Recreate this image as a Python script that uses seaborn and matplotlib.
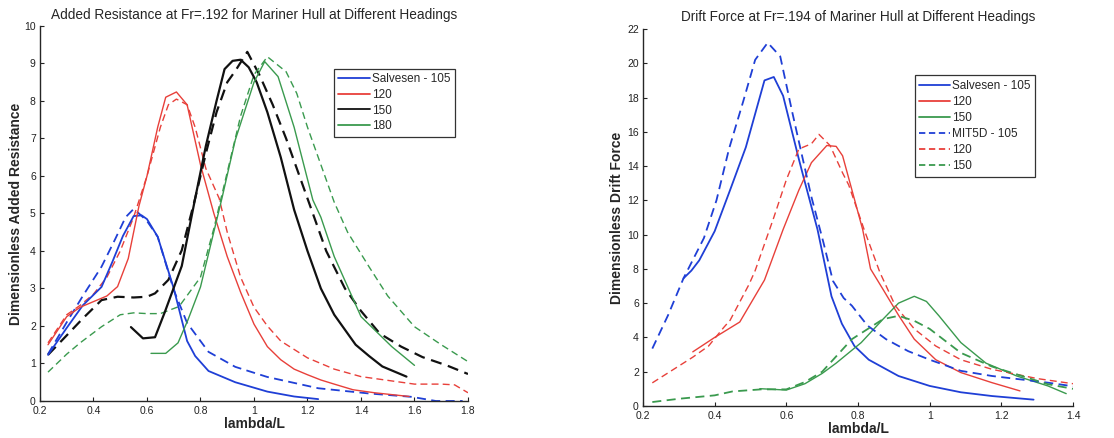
import numpy as np
import pandas as pd
import seaborn as sns
import matplotlib
matplotlib.use("Agg")
import matplotlib.pyplot as plt
from matplotlib.lines import Line2D

# ---------------- Left chart data: Added resistance ----------------
ar_blue_s_x = [0.23, 0.30, 0.36, 0.43, 0.47, 0.51, 0.55, 0.58, 0.60, 0.64, 0.70, 0.75, 0.78, 0.83, 0.93, 1.05, 1.15, 1.24]
ar_blue_s_y = [1.23, 1.95, 2.55, 3.04, 3.7, 4.4, 4.93, 4.95, 4.85, 4.38, 3.0, 1.6, 1.2, 0.8, 0.5, 0.25, 0.12, 0.05]
ar_blue_d_x = [0.23, 0.30, 0.36, 0.43, 0.48, 0.52, 0.55, 0.57, 0.60, 0.64, 0.70, 0.75, 0.83, 0.93, 1.05, 1.24, 1.43, 1.59, 1.68, 1.78]
ar_blue_d_y = [1.25, 2.1, 2.8, 3.58, 4.3, 4.9, 5.12, 5.0, 4.8, 4.38, 2.96, 2.08, 1.31, 0.91, 0.64, 0.34, 0.2, 0.11, 0.0, 0.0]
ar_red_s_x = [0.23, 0.30, 0.35, 0.40, 0.45, 0.49, 0.53, 0.57, 0.60, 0.64, 0.67, 0.71, 0.75, 0.80, 0.85, 0.90, 0.95, 1.00, 1.05, 1.10, 1.15, 1.20, 1.25, 1.30, 1.37, 1.45, 1.58]
ar_red_s_y = [1.5, 2.25, 2.5, 2.65, 2.8, 3.05, 3.8, 5.2, 6.0, 7.3, 8.1, 8.24, 7.9, 6.3, 5.0, 3.85, 2.9, 2.05, 1.45, 1.1, 0.85, 0.7, 0.56, 0.45, 0.3, 0.22, 0.12]
ar_red_d_x = [0.23, 0.30, 0.35, 0.40, 0.45, 0.50, 0.55, 0.60, 0.65, 0.68, 0.71, 0.75, 0.78, 0.82, 0.87, 0.90, 0.95, 1.00, 1.05, 1.10, 1.20, 1.30, 1.40, 1.50, 1.60, 1.70, 1.75, 1.80]
ar_red_d_y = [1.55, 2.3, 2.55, 2.85, 3.3, 4.0, 4.9, 6.0, 7.3, 7.9, 8.05, 7.9, 7.3, 6.2, 5.4, 4.5, 3.3, 2.5, 2.0, 1.6, 1.15, 0.85, 0.65, 0.55, 0.45, 0.45, 0.43, 0.22]
ar_black_s_x = [0.54, 0.585, 0.63, 0.665, 0.73, 0.78, 0.82, 0.86, 0.89, 0.92, 0.95, 0.98, 1.01, 1.05, 1.10, 1.15, 1.20, 1.25, 1.30, 1.38, 1.43, 1.48, 1.57]
ar_black_s_y = [1.97, 1.67, 1.7, 2.34, 3.6, 5.4, 6.8, 8.0, 8.85, 9.07, 9.1, 8.9, 8.5, 7.7, 6.5, 5.1, 4.0, 3.0, 2.3, 1.5, 1.2, 0.92, 0.65]
ar_black_d_x = [0.23, 0.30, 0.36, 0.43, 0.49, 0.55, 0.60, 0.63, 0.68, 0.73, 0.78, 0.82, 0.86, 0.90, 0.93, 0.975, 1.02, 1.07, 1.12, 1.17, 1.22, 1.27, 1.34, 1.40, 1.47, 1.55, 1.63, 1.72, 1.80]
ar_black_d_y = [1.23, 1.75, 2.2, 2.69, 2.78, 2.76, 2.78, 2.87, 3.23, 4.02, 5.4, 6.6, 7.7, 8.5, 8.8, 9.31, 8.7, 7.9, 7.0, 6.0, 5.0, 4.0, 3.0, 2.4, 1.8, 1.45, 1.17, 0.95, 0.72]
ar_green_s_x = [0.615, 0.67, 0.716, 0.753, 0.80, 0.88, 0.93, 1.00, 1.04, 1.09, 1.15, 1.22, 1.25, 1.30, 1.40, 1.515, 1.60]
ar_green_s_y = [1.27, 1.27, 1.55, 2.16, 3.04, 5.4, 6.96, 8.5, 9.05, 8.65, 7.3, 5.36, 4.9, 3.85, 2.25, 1.45, 0.95]
ar_green_d_x = [0.23, 0.30, 0.35, 0.43, 0.50, 0.55, 0.60, 0.65, 0.72, 0.80, 0.85, 0.90, 0.95, 1.00, 1.05, 1.12, 1.16, 1.20, 1.25, 1.30, 1.35, 1.43, 1.50, 1.60, 1.70, 1.80]
ar_green_d_y = [0.77, 1.25, 1.55, 1.98, 2.3, 2.35, 2.33, 2.33, 2.52, 3.3, 4.6, 6.1, 7.6, 8.7, 9.18, 8.78, 8.2, 7.3, 6.3, 5.3, 4.5, 3.58, 2.8, 1.98, 1.5, 1.05]

# ---------------- Right chart data: Drift force ----------------
df_blue_s_x = [0.313, 0.335, 0.357, 0.40, 0.443, 0.487, 0.539, 0.565, 0.591, 0.635, 0.65, 0.687, 0.726, 0.755, 0.79, 0.83, 0.913, 1.00, 1.087, 1.174, 1.29]
df_blue_s_y = [7.45, 7.9, 8.5, 10.2, 12.6, 15.1, 19.0, 19.2, 18.1, 14.4, 13.2, 10.3, 6.4, 4.8, 3.5, 2.7, 1.75, 1.17, 0.8, 0.58, 0.37]
df_blue_d_x = [0.226, 0.27, 0.313, 0.37, 0.405, 0.44, 0.48, 0.513, 0.548, 0.583, 0.617, 0.645, 0.67, 0.704, 0.73, 0.76, 0.783, 0.826, 0.878, 0.94, 1.00, 1.087, 1.174, 1.33, 1.40]
df_blue_d_y = [3.35, 5.3, 7.45, 9.8, 12.0, 15.0, 17.8, 20.2, 21.2, 20.4, 17.1, 14.5, 12.2, 9.5, 7.3, 6.3, 5.85, 4.7, 3.9, 3.2, 2.7, 2.05, 1.75, 1.36, 1.15]
df_red_s_x = [0.339, 0.40, 0.47, 0.539, 0.591, 0.635, 0.67, 0.713, 0.739, 0.757, 0.787, 0.813, 0.835, 0.87, 0.913, 0.957, 1.017, 1.087, 1.174, 1.252]
df_red_s_y = [3.16, 4.0, 4.9, 7.35, 10.3, 12.6, 14.2, 15.2, 15.15, 14.6, 12.3, 10.3, 8.0, 6.8, 5.3, 3.9, 2.7, 1.95, 1.36, 0.88]
df_red_d_x = [0.226, 0.339, 0.383, 0.426, 0.443, 0.496, 0.513, 0.565, 0.60, 0.635, 0.67, 0.691, 0.722, 0.757, 0.774, 0.817, 0.861, 0.904, 0.957, 1.017, 1.087, 1.174, 1.30, 1.40]
df_red_d_y = [1.35, 2.85, 3.5, 4.6, 5.0, 7.1, 7.9, 11.0, 13.2, 15.0, 15.3, 15.85, 15.2, 13.6, 12.9, 10.3, 7.8, 5.85, 4.5, 3.5, 2.7, 2.14, 1.6, 1.3]
df_green_s_x = [0.526, 0.60, 0.652, 0.70, 0.739, 0.809, 0.87, 0.913, 0.957, 0.991, 1.026, 1.087, 1.157, 1.243, 1.33, 1.381]
df_green_s_y = [1.01, 0.93, 1.3, 1.9, 2.5, 3.7, 5.07, 6.0, 6.4, 6.1, 5.26, 3.7, 2.5, 1.75, 1.17, 0.72]
df_green_d_x = [0.226, 0.30, 0.40, 0.45, 0.53, 0.60, 0.652, 0.70, 0.783, 0.87, 0.913, 0.957, 1.00, 1.087, 1.174, 1.33, 1.40]
df_green_d_y = [0.23, 0.42, 0.62, 0.85, 0.97, 0.97, 1.4, 2.0, 3.9, 5.07, 5.26, 4.97, 4.5, 3.1, 2.3, 1.27, 1.0]

left_labels = ["Salvesen - 105", "120", "150", "180"]
right_labels = ["Salvesen - 105", "120", "150", "MIT5D - 105", "120", "150"]

BLUE = "#1f3fd6"
RED = "#e8403a"
BLACK = "#111111"
GREEN = "#3a9a4e"

sns.set_style("ticks")
plt.rcParams["font.family"] = ["Liberation Sans", "DejaVu Sans"]
plt.rcParams["xtick.direction"] = "in"
plt.rcParams["ytick.direction"] = "in"

fig = plt.figure(figsize=(11.14, 4.38), dpi=100)
axL = fig.add_axes([0.0359, 0.0845, 0.3842, 0.8562])
axR = fig.add_axes([0.5772, 0.0731, 0.3860, 0.8607])


def draw(ax, x, y, color, ls, lw):
    d = pd.DataFrame({"x": x, "y": y})
    sns.lineplot(data=d, x="x", y="y", ax=ax, color=color, linestyle=ls, linewidth=lw,
                 sort=False, estimator=None, legend=False)

dash = (0, (5, 3))
# Left
draw(axL, ar_blue_d_x, ar_blue_d_y, BLUE, dash, 1.3)
draw(axL, ar_red_d_x, ar_red_d_y, RED, dash, 1.0)
draw(axL, ar_black_d_x, ar_black_d_y, BLACK, dash, 1.6)
draw(axL, ar_green_d_x, ar_green_d_y, GREEN, dash, 1.0)
draw(axL, ar_blue_s_x, ar_blue_s_y, BLUE, "-", 1.3)
draw(axL, ar_red_s_x, ar_red_s_y, RED, "-", 1.0)
draw(axL, ar_black_s_x, ar_black_s_y, BLACK, "-", 1.6)
draw(axL, ar_green_s_x, ar_green_s_y, GREEN, "-", 1.0)

# Right
draw(axR, df_blue_s_x, df_blue_s_y, BLUE, "-", 1.3)
draw(axR, df_red_s_x, df_red_s_y, RED, "-", 1.0)
draw(axR, df_green_s_x, df_green_s_y, GREEN, "-", 1.0)
draw(axR, df_blue_d_x, df_blue_d_y, BLUE, dash, 1.3)
draw(axR, df_red_d_x, df_red_d_y, RED, dash, 1.0)
draw(axR, df_green_d_x, df_green_d_y, GREEN, dash, 1.3)

for ax in (axL, axR):
    sns.despine(ax=ax)
    ax.spines["left"].set_linewidth(1.0)
    ax.spines["bottom"].set_linewidth(1.0)
    ax.tick_params(labelsize=7.5, length=3, width=0.8, colors="#222222")
    ax.tick_params(axis="x", pad=3.5)
    ax.tick_params(axis="y", pad=3)
    ax.set_xlabel("lambda/L", fontsize=10, fontweight="bold", labelpad=1)

axL.set_xlim(0.2, 1.8)
axL.set_ylim(0, 10)
axL.set_xticks(np.arange(0.2, 1.81, 0.2))
axL.set_xticklabels(["0.2", "0.4", "0.6", "0.8", "1", "1.2", "1.4", "1.6", "1.8"])
axL.set_yticks(range(0, 11))
axL.set_ylabel("Dimensionless Added Resistance", fontsize=10, fontweight="bold", labelpad=1)
axL.set_title("Added Resistance at Fr=.192 for Mariner Hull at Different Headings", fontsize=9.8, pad=5)

axR.set_xlim(0.2, 1.4)
axR.set_ylim(0, 22)
axR.set_xticks(np.arange(0.2, 1.41, 0.2))
axR.set_xticklabels(["0.2", "0.4", "0.6", "0.8", "1", "1.2", "1.4"])
axR.set_yticks(range(0, 23, 2))
axR.set_ylabel("Dimensionless Drift Force", fontsize=10, fontweight="bold", labelpad=2)
axR.set_title("Drift Force at Fr=.194 of Mariner Hull at Different Headings", fontsize=9.8, pad=6)

hL = [Line2D([], [], color=c, lw=1.3, ls="-") for c in (BLUE, RED, BLACK, GREEN)]
legL = axL.legend(hL, left_labels, loc="upper left", bbox_to_anchor=(0.686, 0.886), fontsize=8.5,
                  frameon=True, fancybox=False, edgecolor="black", handlelength=2.7,
                  handletextpad=0.15, borderpad=0.4, labelspacing=0.3, borderaxespad=0)
legL.get_frame().set_linewidth(0.9)

hR = [Line2D([], [], color=c, lw=1.3, ls="-") for c in (BLUE, RED, GREEN)] + \
     [Line2D([], [], color=c, lw=1.3, ls=(0, (3.5, 2))) for c in (BLUE, RED, GREEN)]
legR = axR.legend(hR, right_labels, loc="upper left", bbox_to_anchor=(0.632, 0.877), fontsize=8.5,
                  frameon=True, fancybox=False, edgecolor="black", handlelength=2.6,
                  handletextpad=0.15, borderpad=0.4, labelspacing=0.34, borderaxespad=0)
legR.get_frame().set_linewidth(0.9)

fig.savefig("out.png", dpi=100)
